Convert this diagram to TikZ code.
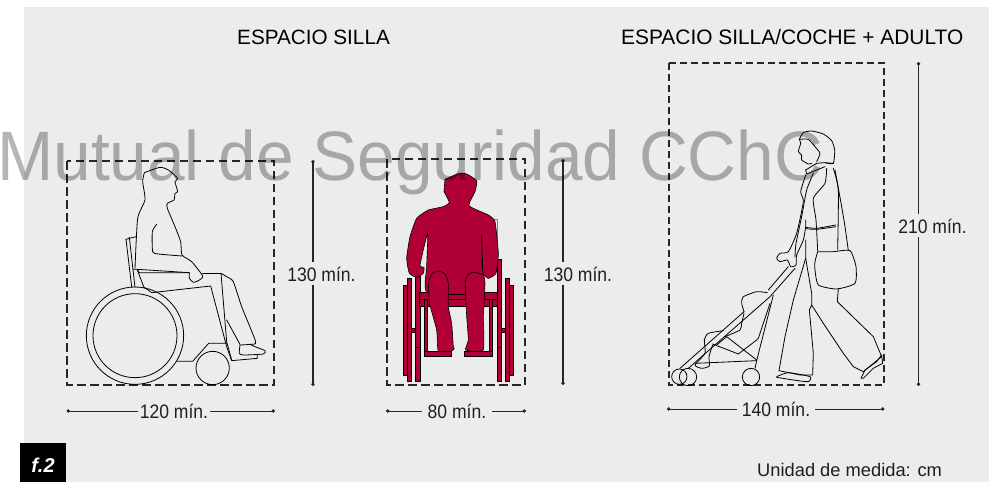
\documentclass[tikz,border=0pt]{standalone}
\usepackage{fontspec}
\setmainfont{Liberation Sans}
\newfontfamily\narrowsize[FakeStretch=0.9]{Liberation Sans}
\newfontfamily\markfont[FakeStretch=0.965]{Liberation Sans}
\usetikzlibrary{arrows.meta}
\definecolor{panel}{HTML}{EBEDED}
\definecolor{wine}{HTML}{B00035}
\definecolor{labelink}{HTML}{1E1E1E}
\tikzset{
  ink/.style={draw=black,line width=0.8pt,line join=round,line cap=round},
  zone/.style={draw=black!85,line width=1.4pt,dash pattern=on 8.5pt off 4.5pt},
  zonethin/.style={draw=black!85,line width=1.3pt,dash pattern=on 7pt off 4pt},
  dimv/.style={draw=black!85,line width=1.1pt,{Circle[length=3.5pt]}-},
  dimh/.style={draw=black!85,line width=0.9pt,{Circle[length=3.5pt]}-},
  title/.style={font=\fontsize{20.7}{22}\selectfont,text=black,inner sep=0},
  titlewide/.style={font=\fontsize{20.9}{22}\selectfont,text=black,inner sep=0},
  size/.style={font=\narrowsize\fontsize{19.5}{21}\selectfont,text=labelink,inner sep=4pt,anchor=base},
  redpart/.style={fill=wine,draw=black,line width=0.6pt,line join=round},
}
\newcommand{\crv}[1]{\draw[ink] plot[smooth,tension=.35] coordinates {#1};}
\newcommand{\lin}[1]{\draw[ink] plot coordinates {#1};}
\newcommand{\redcrv}[1]{\path[redpart] plot[smooth,tension=.3] coordinates {#1} -- cycle;}
\begin{document}
\begin{tikzpicture}[x=1pt,y=-1pt]
\useasboundingbox (0,0) rectangle (989,482);
\fill[panel] (23.5,7) rectangle (989,482);

% titles
\node[title,anchor=base west] (t1) at (237,44) {ESPACIO SILLA};
\node[titlewide,anchor=base west] (t2) at (621,44) {ESPACIO SILLA/COCHE + ADULTO};

% zones
\draw[zone] (67,161) rectangle (274,385);
\draw[zone] (387,159) rectangle (525,385);
\draw[zonethin] (669,63) rectangle (884,385);

% side-view wheelchair
\begin{scope}[shift={(50,150)},scale=1/3]
\crv{(283,68)(330,52)(355,60)(383,85)(375,95)(383,125)(375,130)(372,150)(352,160)(352,175)(375,230)(392,275)(396,315)(425,335)(458,378)(445,392)(430,397)(418,385)(418,368)}
\crv{(283,68)(278,95)(285,150)(263,205)(255,355)}
\crv{(320,223)(307,245)(308,305)(325,312)(396,318)}
\lin{(250,358)(262,358)(418,368)}
\lin{(262,358)(268,368)(418,368)}
\crv{(458,370)(513,370)}
\crv{(513,370)(530,380)(550,395)(575,470)(617,575)(600,583)(570,585)}
\crv{(570,585)(568,610)(580,615)(640,612)(645,602)(615,590)(600,583)}
\lin{(513,370)(530,575)(545,630)}
\lin{(530,510)(570,583)}
\lin{(228,268)(245,410)}
\lin{(228,268)(238,265)(258,260)}
\lin{(238,262)(255,412)}
\lin{(262,360)(283,415)}
\lin{(283,412)(305,428)(482,408)(530,590)(545,632)(622,625)(622,615)}
\lin{(530,580)(476,580)(428,634)(382,634)}
\draw[ink] (255,557) circle[radius=146];
\draw[ink] (255,557) circle[radius=126];
\draw[ink] (488,654) circle[radius=50];
\end{scope}

% front-view wheelchair
\begin{scope}[shift={(370,150)},scale=1/3]
\draw[gray,line width=0.6pt] (370,208) -- (382,208) -- (382,320);
\foreach \xa/\ya/\xb/\yb in {100/405/112/675,112/385/125/695,136/380/150/695,382/328/395/695,406/385/419/695,419/405/431/675,
  125/535/136/547,395/535/406/547,148/428/382/448,148/448/382/468,163/448/173/605,357/448/367/605,162/605/245/620,283/603/367/620}
  {\path[redpart] (\xa,\ya) rectangle (\xb,\yb);}
\draw[ink] (136,592) -- (150,592) (382,592) -- (395,592);
\redcrv{(225,88)(268,70)(290,72)(320,92)(315,125)(297,167)(355,195)(375,215)(385,310)(378,370)(355,385)(340,372)(338,345)(335,255)(335,330)(335,428)(172,428)(170,350)(173,250)(150,345)(162,352)(160,370)(140,382)(118,370)(110,325)(120,260)(140,205)(175,180)(220,170)(238,157)(222,125)}
\redcrv{(175,400)(185,372)(205,363)(225,372)(235,400)(235,470)(245,520)(250,590)(253,595)(245,603)(205,603)(200,540)(178,460)}
\redcrv{(285,395)(295,372)(315,367)(340,375)(345,400)(340,500)(340,600)(287,600)(295,570)(290,500)}
\end{scope}

% woman with pushchair
\begin{scope}[shift={(660,120)},scale=1/3]
\crv{(418,58)(430,38)(455,33)(490,42)(515,62)(524,90)(520,130)(495,128)}
\crv{(418,58)(445,58)(465,80)(480,100)(470,125)}
\crv{(418,58)(422,70)(415,95)(425,105)(425,120)(445,132)(455,130)}
\lin{(437,150)(470,130)(490,128)(520,130)}
\lin{(437,150)(440,162)(495,140)}
\crv{(437,165)(422,215)(430,245)(410,340)(385,395)(360,400)(350,415)(360,425)(382,420)(392,440)(408,435)(410,405)(430,360)(437,320)(437,300)}
\crv{(460,160)(440,210)(425,290)(408,370)(405,410)}
\crv{(500,145)(495,190)(460,235)(468,300)(473,392)}
\crv{(520,145)(535,210)(533,390)}
\crv{(525,150)(545,260)(555,320)(565,392)}
\crv{(437,322)(470,325)(527,315)}
\crv{(437,326)(470,328)(527,320)}
\crv{(473,395)(520,395)(570,392)(588,440)(585,490)(530,507)(475,495)(465,450)(465,425)(473,395)}
\lin{(437,360)(437,415)(400,540)(375,650)(357,752)(420,765)(458,765)(460,700)(448,570)(455,555)(490,610)(550,700)(580,740)(610,755)(665,710)(640,650)(532,545)(535,505)}
\lin{(437,415)(455,520)(455,555)}
\crv{(350,770)(385,758)(450,770)(445,785)(400,780)(350,772)}
\lin{(603,775)(615,750)(650,725)(665,705)(668,730)(640,745)(610,775)(603,775)}
\lin{(405,445)(330,530)(85,745)}
\lin{(385,440)(325,510)}
\crv{(322,518)(290,515)(250,530)(245,550)(252,575)}
\lin{(252,575)(60,745)}
\crv{(190,632)(145,640)(133,660)(135,700)(105,735)(125,745)(148,738)(147,710)(158,675)}
\lin{(158,672)(235,702)(290,660)(295,655)(330,550)}
\lin{(170,675)(200,650)(290,720)}
\crv{(195,650)(240,630)(245,610)(252,580)}
\lin{(105,730)(290,722)(340,525)}
\lin{(290,722)(285,745)}
\draw[ink] (58,770) circle[radius=23];
\draw[ink] (84,771) circle[radius=26];
\draw[ink] (273,771) circle[radius=26];
\end{scope}

% dimension labels and lines
\coordinate (v1a) at (313,160); \coordinate (v1b) at (313,386);
\coordinate (v2a) at (563,159); \coordinate (v2b) at (563,385);
\coordinate (v3a) at (918.5,62); \coordinate (v3b) at (918.5,386);
\node[size] (l130a) at (321.5,281) {130 mín.};
\node[size] (l130b) at (578,281) {130 mín.};
\node[size] (l210) at (932.5,233) {210 mín.};
\draw[dimv] (v1a) -- (v1a |- l130a.north);
\draw[dimv] (v1b) -- (v1b |- l130a.south);
\draw[dimv] (v2a) -- (v2a |- l130b.north);
\draw[dimv] (v2b) -- (v2b |- l130b.south);
\draw[dimv] (v3a) -- (v3a |- l210.north);
\draw[dimv] (v3b) -- (v3b |- l210.south);

\coordinate (h1a) at (66.5,411); \coordinate (h1b) at (275,411);
\coordinate (h2a) at (386,411); \coordinate (h2b) at (526,411);
\coordinate (h3a) at (667,409); \coordinate (h3b) at (884.5,409);
\node[size,inner xsep=2pt] (l120) at (174,418) {120 mín.};
\node[size,inner xsep=6pt] (l80) at (457,418) {80 mín.};
\node[size,inner xsep=5pt] (l140) at (776,416) {140 mín.};
\draw[dimh] (h1a) -- (h1a -| l120.west);
\draw[dimh] (h1b) -- (h1b -| l120.east);
\draw[dimh] (h2a) -- (h2a -| l80.west);
\draw[dimh] (h2b) -- (h2b -| l80.east);
\draw[dimh] (h3a) -- (h3a -| l140.west);
\draw[dimh] (h3b) -- (h3b -| l140.east);

% footer
\node[font=\fontsize{18.3}{20}\selectfont,text=labelink,inner sep=0,anchor=base west] (unit) at (757,476) {Unidad de medida: cm};
\fill[black] (20,443) rectangle (66,482);
\node[font=\fontsize{20}{22}\selectfont\bfseries\itshape,text=white,inner sep=0] (fig) at (43,465) {f.2};

% watermark
\node[font=\markfont\fontsize{70}{72}\selectfont,text=black,text opacity=0.29,inner sep=0,anchor=base west] (mark) at (-3,180) {Mutual de Seguridad CChC};
\end{tikzpicture}
\end{document}
